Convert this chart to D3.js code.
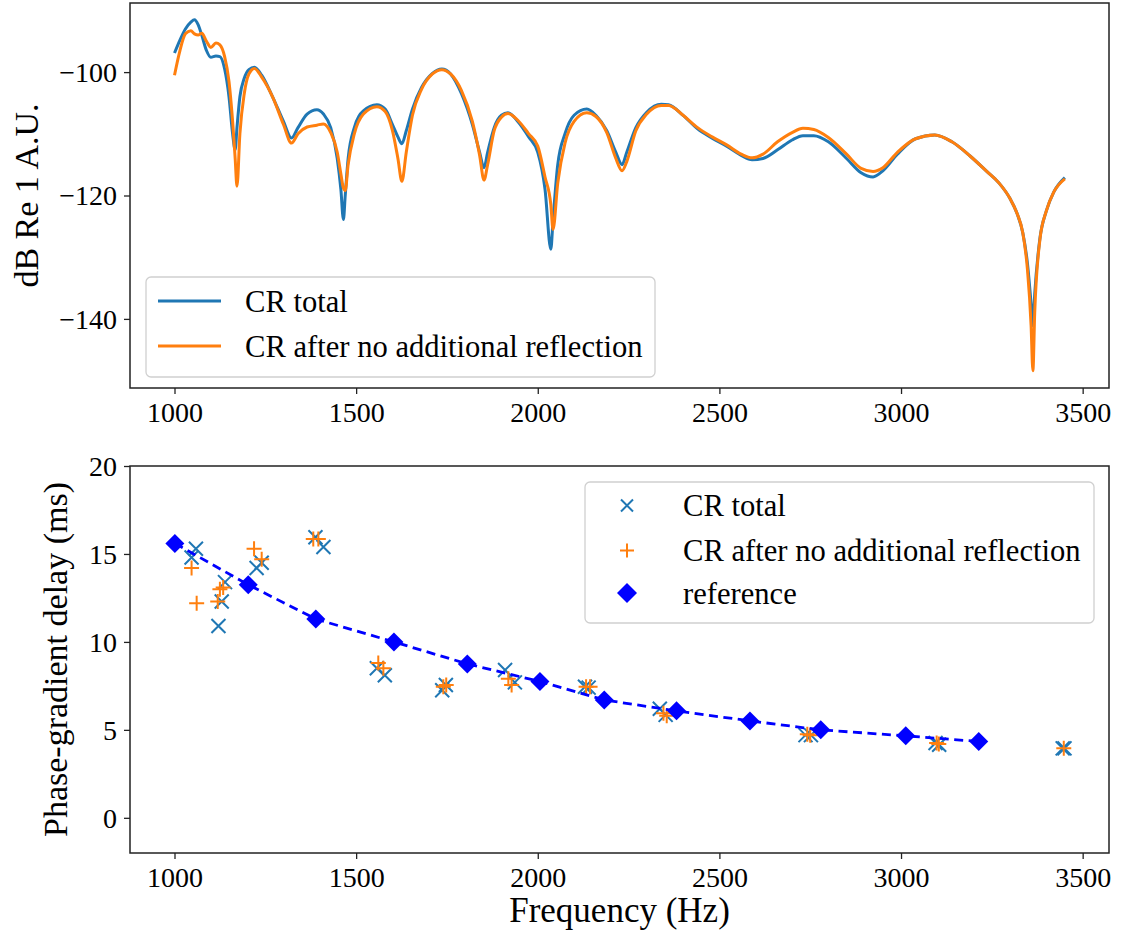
<!DOCTYPE html>
<html>
<head>
<meta charset="utf-8">
<script src="https://cdn.jsdelivr.net/npm/d3@7"></script>
<style>
  html, body { margin: 0; padding: 0; background: #fff; }
  svg { display: block; }
  text { font-family: "Liberation Serif", "Times New Roman", serif; fill: #000; }
</style>
</head>
<body>
<svg id="chart" width="1122" height="943"></svg>
<script>
// ---------------- DATA ----------------
const freq = [1000,1015,1030,1045,1055,1065,1075,1088,1100,1114,1125,1138,1150,1160,1167,1172,1180,1192,1205,1220,
  1240,1270,1300,1322,1340,1365,1392,1410,1430,1448,1458,1465,1470,1478,1495,1520,1557,1580,1600,1615,
  1626,1638,1655,1680,1710,1736,1760,1790,1820,1840,1852,1862,1880,1900,1918,1945,1975,2000,2020,2036,
  2042,2055,2075,2100,2135,2160,2190,2215,2232,2245,2270,2300,2340,2360,2400,2440,2480,2520,2560,2590,
  2620,2660,2700,2730,2760,2800,2850,2890,2923,2950,2990,3040,3093,3140,3190,3236,3270,3300,3320,3335,
  3348,3358,3363,3368,3382,3400,3420,3451];
const crTotalDb = [-96.9,-94.8,-93.0,-91.9,-91.5,-92.3,-94.0,-96.5,-97.6,-97.4,-97.5,-99.5,-104.0,-110.0,-112.6,-109.0,-104.0,-101.0,-99.6,-99.2,
  -100.5,-104.0,-108.0,-110.7,-109.0,-106.8,-106.1,-106.8,-109.0,-114.0,-119.0,-123.9,-120.0,-114.0,-109.0,-106.3,-105.3,-106.0,-108.5,-110.5,
  -111.6,-109.5,-106.0,-102.5,-100.2,-99.5,-100.3,-103.5,-108.5,-113.0,-115.5,-113.0,-109.0,-107.0,-106.6,-108.0,-110.5,-113.0,-119.0,-128.7,
  -124.0,-115.0,-110.0,-107.0,-106.0,-107.0,-109.5,-113.0,-115.0,-113.0,-109.0,-106.5,-105.2,-105.3,-107.0,-109.2,-110.7,-112.0,-113.5,-114.2,
  -114.0,-112.6,-111.0,-110.3,-110.3,-111.3,-114.0,-116.3,-117.0,-116.0,-113.3,-110.8,-110.2,-111.3,-113.6,-116.1,-118.0,-120.5,-123.0,-126.0,
  -131.0,-137.5,-141.1,-136.0,-127.1,-122.5,-119.5,-117.1];
const crAfterDb = [-100.5,-96.5,-93.8,-93.3,-93.8,-94.0,-93.7,-95.0,-96.0,-95.3,-95.6,-97.5,-101.5,-108.0,-114.0,-118.5,-110.0,-103.5,-100.3,-99.4,
  -100.8,-104.0,-108.5,-111.5,-110.0,-108.9,-108.6,-108.4,-109.8,-113.0,-116.5,-118.8,-119.2,-115.0,-110.0,-106.8,-105.6,-106.4,-109.5,-114.0,
  -117.7,-113.0,-107.0,-102.8,-100.3,-99.6,-100.3,-103.0,-108.0,-113.5,-117.5,-115.0,-109.5,-107.3,-106.7,-107.8,-110.0,-112.0,-117.0,-121.5,
  -125.5,-118.0,-111.5,-108.0,-106.6,-107.2,-109.8,-114.0,-116.0,-114.5,-109.5,-106.8,-105.4,-105.4,-107.0,-109.0,-110.5,-111.8,-113.3,-113.9,
  -113.3,-111.3,-109.8,-109.1,-109.3,-110.6,-113.3,-115.6,-116.1,-115.5,-113.0,-110.8,-110.2,-111.3,-113.6,-116.1,-118.0,-120.5,-123.0,-126.0,
  -132.0,-141.0,-148.4,-139.0,-127.3,-122.5,-119.5,-117.3];

const totalFreq  = [1047,1059,1121,1130,1139,1226,1240,1388,1410,1557,1579,1737,1747,1910,1937,2130,2140,2336,2352,2737,2752,3095,3105,3445,3450];
const totalDelay = [14.8,15.3,10.9,12.3,13.4,14.2,14.5,15.95,15.4,8.5,8.1,7.25,7.55,8.4,7.7,7.45,7.4,6.2,5.85,4.7,4.7,4.25,4.15,3.95,3.95];
const afterFreq  = [1047,1061,1119,1125,1134,1219,1240,1382,1396,1561,1575,1740,1748,1919,1928,2133,2144,2346,2355,2742,2750,3098,3104,3448];
const afterDelay = [14.2,12.2,12.3,13.0,13.1,15.3,14.7,15.85,15.85,8.8,8.5,7.45,7.55,7.9,7.55,7.45,7.45,5.95,5.8,4.75,4.7,4.25,4.2,3.95];
const refFreq  = [1001,1203,1389,1604,1806,2006,2183,2382,2584,2779,3013,3214];
const refDelay = [15.6,13.25,11.3,10.0,8.75,7.75,6.7,6.08,5.51,5.0,4.66,4.34];

const xTicks = [1000,1500,2000,2500,3000,3500];
const yTicksTop = [-100,-120,-140];
const yTicksBottom = [0,5,10,15,20];
const seriesNames = ["CR total", "CR after no additional reflection", "reference"];

// ---------------- STYLE ----------------
const BLUE = "#1f77b4", ORANGE = "#ff7f0e", REF = "#0000ff";
const L = 130, R = 1109;
const top1 = 3, bot1 = 388, top2 = 466, bot2 = 853;
const fmt = d => d < 0 ? "\u2212" + Math.abs(d) : String(d);

const svg = d3.select("#chart");

const x = d3.scaleLinear().domain([877.5, 3572.5]).range([L, R]);
const y1 = d3.scaleLinear().domain([-151.2, -88.8]).range([bot1, top1]);
const y2 = d3.scaleLinear().domain([-2, 20]).range([bot2, top2]);

function frame(top, bot) {
  svg.append("rect").attr("x", L).attr("y", top).attr("width", R - L).attr("height", bot - top)
    .attr("fill", "none").attr("stroke", "#222").attr("stroke-width", 1.5);
}

function axes(yScale, yTicks, top, bot) {
  const gx = svg.append("g").attr("transform", `translate(0,${bot})`)
    .call(d3.axisBottom(x).tickValues(xTicks).tickSize(6).tickPadding(6).tickFormat(d => d));
  gx.select(".domain").remove();
  gx.selectAll("line").attr("stroke", "#222").attr("stroke-width", 1.3);
  gx.selectAll("text").attr("font-size", 28).attr("font-family", "Liberation Serif").attr("dy", "0.78em");
  const gy = svg.append("g").attr("transform", `translate(${L},0)`)
    .call(d3.axisLeft(yScale).tickValues(yTicks).tickSize(6).tickPadding(7).tickFormat(fmt));
  gy.select(".domain").remove();
  gy.selectAll("line").attr("stroke", "#222").attr("stroke-width", 1.3);
  gy.selectAll("text").attr("font-size", 28).attr("font-family", "Liberation Serif").attr("dy", "0.33em");
}

// ---------- TOP PANEL ----------
svg.append("clipPath").attr("id", "c1").append("rect")
  .attr("x", L).attr("y", top1).attr("width", R - L).attr("height", bot1 - top1);
const line1 = (vals) => d3.line().x((d, i) => x(freq[i])).y(d => y1(d)).curve(d3.curveMonotoneX)(vals);
const g1 = svg.append("g").attr("clip-path", "url(#c1)");
g1.append("path").attr("d", line1(crTotalDb)).attr("fill", "none").attr("stroke", BLUE).attr("stroke-width", 3).attr("stroke-linejoin", "round");
g1.append("path").attr("d", line1(crAfterDb)).attr("fill", "none").attr("stroke", ORANGE).attr("stroke-width", 3).attr("stroke-linejoin", "round");
frame(top1, bot1);
axes(y1, yTicksTop, top1, bot1);

svg.append("text").attr("transform", `translate(38,${(top1 + bot1) / 2}) rotate(-90)`)
  .attr("text-anchor", "middle").attr("font-size", 34).text("dB Re 1 A.U.");

// legend top
const lg1 = svg.append("g");
lg1.append("rect").attr("x", 146).attr("y", 277).attr("width", 509).attr("height", 100).attr("rx", 5)
  .attr("fill", "#fff").attr("fill-opacity", 0.8).attr("stroke", "#d0d0d0").attr("stroke-width", 1.3);
[[BLUE, seriesNames[0]], [ORANGE, seriesNames[1]]].forEach(([c, t], i) => {
  const yy = 301 + i * 45;
  lg1.append("line").attr("x1", 158).attr("x2", 221).attr("y1", yy).attr("y2", yy).attr("stroke", c).attr("stroke-width", 3);
  lg1.append("text").attr("x", 245).attr("y", yy + 10.5).attr("font-size", 30.6).text(t);
});

// ---------- BOTTOM PANEL ----------
const g2 = svg.append("g");
function xMark(g, cx, cy, s, c) {
  g.append("path").attr("d", `M${cx - s},${cy - s}L${cx + s},${cy + s}M${cx - s},${cy + s}L${cx + s},${cy - s}`)
    .attr("stroke", c).attr("stroke-width", 2).attr("fill", "none");
}
function plusMark(g, cx, cy, s, c) {
  g.append("path").attr("d", `M${cx - s},${cy}L${cx + s},${cy}M${cx},${cy - s}L${cx},${cy + s}`)
    .attr("stroke", c).attr("stroke-width", 2).attr("fill", "none");
}
function diamond(g, cx, cy, s, c) {
  g.append("path").attr("d", `M${cx},${cy - s}L${cx + s},${cy}L${cx},${cy + s}L${cx - s},${cy}Z`).attr("fill", c);
}
totalFreq.forEach((f, i) => xMark(g2, x(f), y2(totalDelay[i]), 7, BLUE));
afterFreq.forEach((f, i) => plusMark(g2, x(f), y2(afterDelay[i]), 7.5, ORANGE));
g2.append("path")
  .attr("d", d3.line().x((d, i) => x(refFreq[i])).y(d => y2(d))(refDelay))
  .attr("fill", "none").attr("stroke", REF).attr("stroke-width", 2.8).attr("stroke-dasharray", "9,5.5");
refFreq.forEach((f, i) => diamond(g2, x(f), y2(refDelay[i]), 9.5, REF));

frame(top2, bot2);
axes(y2, yTicksBottom, top2, bot2);

svg.append("text").attr("transform", `translate(67,${(top2 + bot2) / 2}) rotate(-90)`)
  .attr("text-anchor", "middle").attr("font-size", 34).text("Phase-gradient delay (ms)");
svg.append("text").attr("x", (L + R) / 2).attr("y", 922).attr("text-anchor", "middle")
  .attr("font-size", 35).text("Frequency (Hz)");

// legend bottom
const lg2 = svg.append("g");
lg2.append("rect").attr("x", 585).attr("y", 482).attr("width", 509).attr("height", 141).attr("rx", 5)
  .attr("fill", "#fff").attr("fill-opacity", 0.8).attr("stroke", "#d0d0d0").attr("stroke-width", 1.3);
const rows = [505.5, 550.5, 593];
xMark(lg2, 627, rows[0], 6, BLUE);
plusMark(lg2, 627, rows[1], 7, ORANGE);
diamond(lg2, 627, rows[2], 10, REF);
seriesNames.forEach((t, i) => {
  lg2.append("text").attr("x", 683).attr("y", rows[i] + 10.5).attr("font-size", 30.6).text(t);
});
</script>
</body>
</html>
